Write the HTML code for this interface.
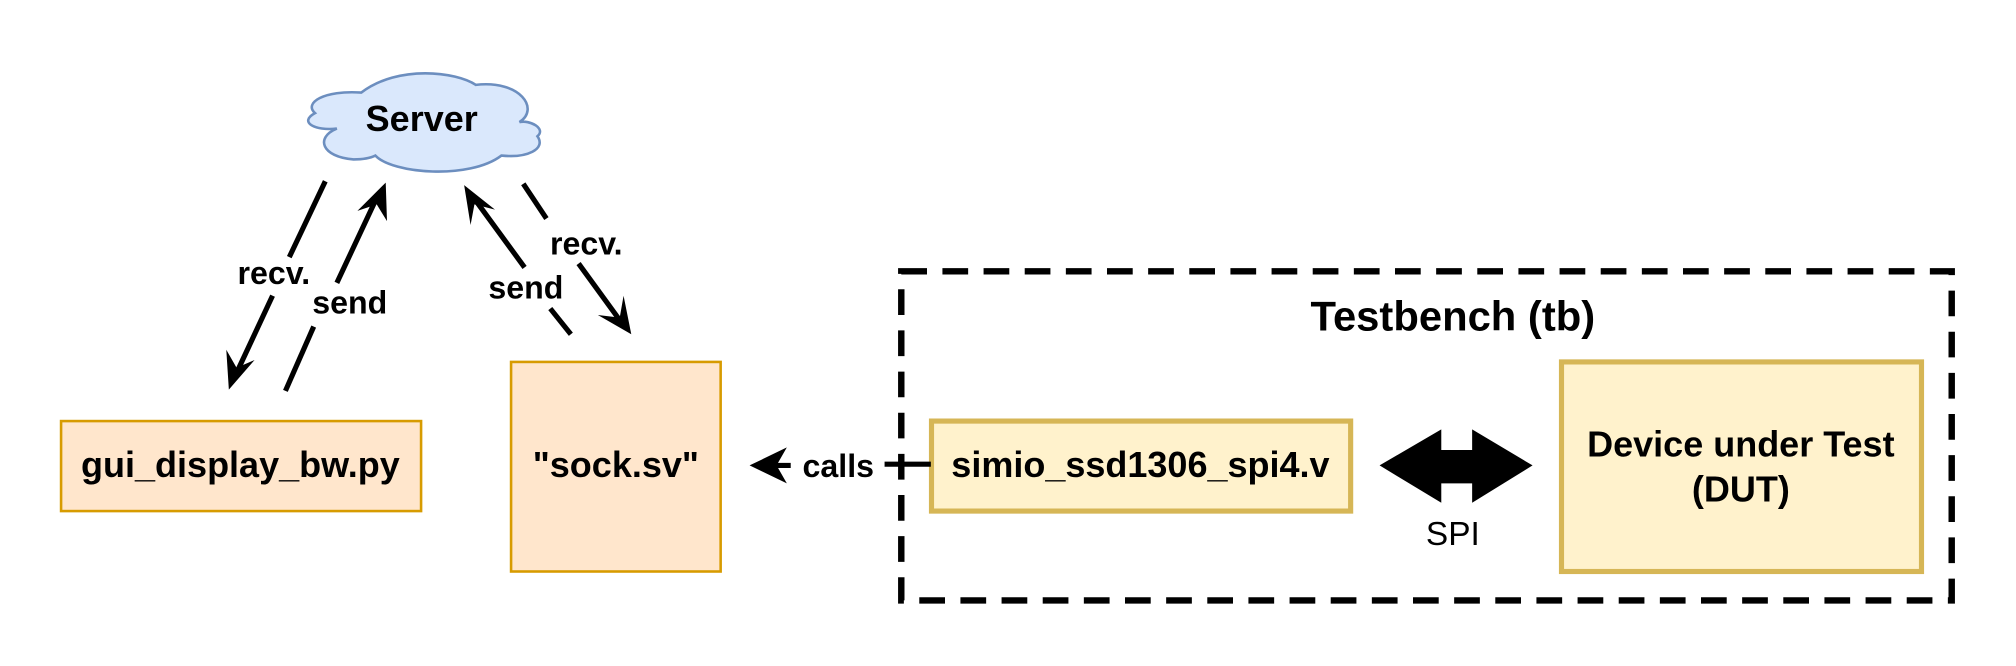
<!DOCTYPE html>
<html><head><meta charset="utf-8"><style>html,body{margin:0;padding:0;background:#fff}svg{display:block}</style></head>
<body>
<svg width="2016" height="666" viewBox="0 0 1568 518" xmlns="http://www.w3.org/2000/svg" font-family="Liberation Sans, Arial, sans-serif">
<rect width="1568" height="518" fill="#fff"/>
<!-- cloud -->
<path d="M 281 72 C 252 70 236 80 245 88 C 232 95 245 102 262 100 C 245 107 250 122 275 124 C 285 124 290 122 292 121 C 305 135 365 140 390 121 C 410 123 425 116 418 106 C 425 100 412 93 404 95 C 420 85 405 62 370 66 C 355 56 310 50 281 72 Z" fill="#dae8fc" stroke="#6c8ebf" stroke-width="2"/>
<text x="328" y="102" font-size="28" font-weight="bold" text-anchor="middle">Server</text>
<!-- boxes -->
<rect x="47.5" y="327.5" width="280" height="70" fill="#ffe6cc" stroke="#d79b00" stroke-width="2"/>
<text x="187" y="371" font-size="28" font-weight="bold" text-anchor="middle">gui_display_bw.py</text>
<rect x="397.5" y="281.5" width="163" height="163" fill="#ffe6cc" stroke="#d79b00" stroke-width="2"/>
<text x="479" y="371" font-size="28" font-weight="bold" text-anchor="middle">"sock.sv"</text>
<!-- dashed testbench -->
<rect x="701" y="211" width="817" height="256" fill="none" stroke="#000" stroke-width="5" stroke-dasharray="20 12"/>
<text x="1130" y="257" font-size="32.5" font-weight="bold" text-anchor="middle">Testbench (tb)</text>
<rect x="724.5" y="327.5" width="326" height="70" fill="#fff2cc" stroke="#d6b656" stroke-width="4"/>
<text x="887" y="371" font-size="28" font-weight="bold" text-anchor="middle">simio_ssd1306_spi4.v</text>
<rect x="1214.5" y="281.5" width="280" height="163" fill="#fff2cc" stroke="#d6b656" stroke-width="4"/>
<text x="1354" y="355" font-size="28" font-weight="bold" text-anchor="middle">Device under Test</text>
<text x="1354" y="390" font-size="28" font-weight="bold" text-anchor="middle">(DUT)</text>
<!-- SPI double arrow -->
<path d="M1073 362 L1121 334 L1121 350 L1145 350 L1145 334 L1192 362 L1145 391 L1145 376 L1121 376 L1121 391 Z" fill="#000"/>
<text x="1130" y="424" font-size="26" text-anchor="middle">SPI</text>
<!-- calls arrow -->
<line x1="724" y1="361" x2="688" y2="361" stroke="#000" stroke-width="4"/>
<line x1="615" y1="362" x2="602" y2="362" stroke="#000" stroke-width="4"/>
<path d="M583 362 L612 348 L604 362 L612 376 Z" fill="#000"/>
<text x="652" y="371" font-size="25" font-weight="bold" text-anchor="middle">calls</text>
<g stroke="#000" stroke-width="4" fill="none">
<line x1="253" y1="141" x2="225" y2="200"/>
<line x1="212" y1="230" x2="184" y2="290"/>
<line x1="222" y1="304" x2="244" y2="254"/>
<line x1="262" y1="220" x2="292" y2="156"/>
<line x1="444" y1="260" x2="428" y2="240"/>
<line x1="408" y1="208" x2="370" y2="156"/>
<line x1="407" y1="143" x2="425" y2="170"/>
<line x1="450" y1="205" x2="482" y2="249"/>
</g>
<path d="M178 303 L176 272 L184 286 L198 280 Z" fill="#000"/>
<path d="M300 142 L301 172 L293 159 L278 164 Z" fill="#000"/>
<path d="M361 144 L385 163 L369 159 L366 175 Z" fill="#000"/>
<path d="M491 260 L465 245 L482 247 L485 230 Z" fill="#000"/>
<g font-size="25" font-weight="bold" text-anchor="middle">
<text x="213" y="221">recv.</text>
<text x="272" y="244">send</text>
<text x="409" y="232">send</text>
<text x="456" y="198">recv.</text>
</g>
</svg>
</body></html>
